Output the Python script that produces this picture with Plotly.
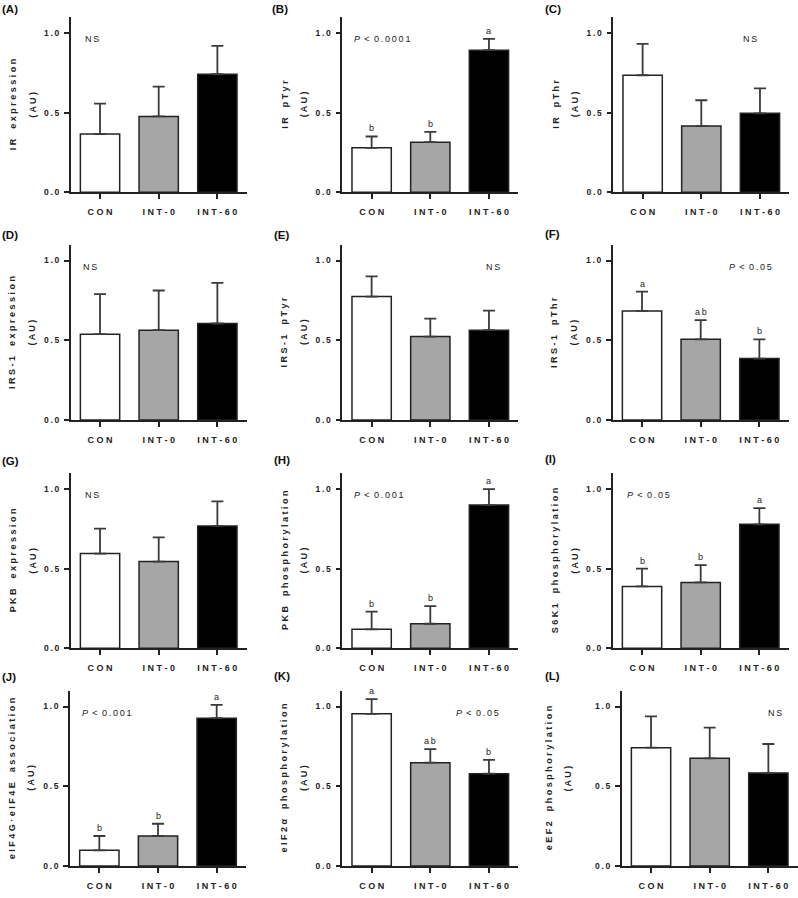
import plotly.graph_objects as go

# ---------------- data ----------------
categories = ["CON", "INT-0", "INT-60"]
ytick_vals = [0.0, 0.5, 1.0]
ytick_labels = ["0.0", "0.5", "1.0"]

panel_tags = ["(A)", "(B)", "(C)", "(D)", "(E)", "(F)", "(G)", "(H)", "(I)", "(J)", "(K)", "(L)"]
y_titles = ["IR expression", "IR pTyr", "IR pThr",
            "IRS-1 expression", "IRS-1 pTyr", "IRS-1 pThr",
            "PKB expression", "PKB phosphorylation", "S6K1 phosphorylation",
            "eIF4G·eIF4E association", "eIF2α phosphorylation", "eEF2 phosphorylation"]
unit_label = "(AU)"

ir_expr_mean = [0.365, 0.476, 0.740]
ir_expr_err = [0.191, 0.186, 0.178]
ir_ptyr_mean = [0.279, 0.314, 0.891]
ir_ptyr_err = [0.071, 0.065, 0.071]
ir_pthr_mean = [0.734, 0.415, 0.495]
ir_pthr_err = [0.197, 0.162, 0.157]
irs1_expr_mean = [0.538, 0.563, 0.605]
irs1_expr_err = [0.251, 0.249, 0.255]
irs1_ptyr_mean = [0.774, 0.523, 0.563]
irs1_ptyr_err = [0.126, 0.113, 0.123]
irs1_pthr_mean = [0.684, 0.506, 0.385]
irs1_pthr_err = [0.121, 0.120, 0.121]
pkb_expr_mean = [0.594, 0.544, 0.767]
pkb_expr_err = [0.156, 0.152, 0.154]
pkb_phos_mean = [0.119, 0.154, 0.898]
pkb_phos_err = [0.111, 0.111, 0.100]
s6k1_phos_mean = [0.388, 0.413, 0.777]
s6k1_phos_err = [0.111, 0.109, 0.102]
eif4g_assoc_mean = [0.098, 0.188, 0.927]
eif4g_assoc_err = [0.090, 0.077, 0.083]
eif2a_phos_mean = [0.954, 0.648, 0.579]
eif2a_phos_err = [0.092, 0.085, 0.086]
eef2_phos_mean = [0.742, 0.675, 0.583]
eef2_phos_err = [0.196, 0.192, 0.182]

means = [ir_expr_mean, ir_ptyr_mean, ir_pthr_mean, irs1_expr_mean, irs1_ptyr_mean, irs1_pthr_mean,
         pkb_expr_mean, pkb_phos_mean, s6k1_phos_mean, eif4g_assoc_mean, eif2a_phos_mean, eef2_phos_mean]
errs = [ir_expr_err, ir_ptyr_err, ir_pthr_err, irs1_expr_err, irs1_ptyr_err, irs1_pthr_err,
        pkb_expr_err, pkb_phos_err, s6k1_phos_err, eif4g_assoc_err, eif2a_phos_err, eef2_phos_err]

stat_texts = ["NS", "P < 0.0001", "NS", "NS", "NS", "P < 0.05",
              "NS", "P < 0.001", "P < 0.05", "P < 0.001", "P < 0.05", "NS"]
group_letters = [None, ["b", "b", "a"], None,
                 None, None, ["a", "ab", "b"],
                 None, ["b", "b", "a"], ["b", "b", "a"],
                 ["b", "b", "a"], ["a", "ab", "b"], None]

# ---------------- layout / style ----------------
W, H = 798, 898
axis_x0 = [70.7, 342.3, 613.3, 70.7, 342.3, 612.7, 70.7, 342.3, 612.7, 70.0, 342.3, 621.7]
row_zero = [192.3, 420.0, 648.3, 866.0]
axis_w = 176.0
px_per_unit = 159.5
y_max = 1.1
title_off = [(58, 38.5)] * 11 + [(72.7, 53.4)]
stat_x = [-0.14, 0.185, 1.83, -0.17, 2.07, 1.85, -0.14, 0.12, 0.11, 0.13, 1.80, 2.12]
stat_y = 0.962
tag_x = [0, 270, 542.7, 0, 271.7, 542.7, 0, 271.7, 542.7, 0, 271.7, 542.7]
tag_y = [8.5, 8.5, 8.5, 235, 235, 234, 460.5, 460, 459, 676.5, 675.5, 676]

bar_fills = ["#ffffff", "#a6a6a6", "#000000"]
ink = "#222222"
FONT = "Liberation Sans, Arial, sans-serif"
TS = "\u2009"  # thin space for letter spacing


def spaced(s, sep=" "):
    out = []
    for ch in s:
        if ch == " ":
            out.append("\u00a0\u00a0")
        else:
            out.append(ch)
    return sep.join(out)


def stat_html(s):
    if s.startswith("P"):
        num = s.split("<")[1].strip()
        return "<i>P</i>\u00a0\u2009&lt;\u2009 " + TS.join(list(num))
    return TS.join(list(s))


fig = go.Figure()
layout = dict(template="none", width=W, height=H, margin=dict(l=0, r=0, t=0, b=0, pad=0),
              paper_bgcolor="white", plot_bgcolor="white", showlegend=False,
              font=dict(family=FONT, color=ink))
annotations = []

for i in range(12):
    r = i // 3
    n = "" if i == 0 else str(i + 1)
    x0 = axis_x0[i]
    yb = row_zero[r]
    yt = yb - y_max * px_per_unit
    xdom = [x0 / W, (x0 + axis_w) / W]
    ydom = [1 - yb / H, 1 - yt / H]

    fig.add_trace(go.Bar(
        x=[0, 1, 2], y=means[i], width=0.67,
        marker=dict(color=bar_fills, line=dict(color=ink, width=1.5)),
        error_y=dict(type="data", array=errs[i], arrayminus=[0, 0, 0], symmetric=False,
                     color="#3a3a3a", thickness=1.8, width=6),
        xaxis="x" + n, yaxis="y" + n, hoverinfo="skip"))

    layout["xaxis" + n] = dict(
        domain=xdom, anchor="y" + n, range=[-0.5, 2.5],
        tickmode="array", tickvals=[0, 1, 2], ticktext=[spaced(c) for c in categories],
        ticks="outside", ticklen=5, tickwidth=1.5, tickcolor=ink,
        showline=True, linecolor=ink, linewidth=1.6, showgrid=False, zeroline=False,
        tickfont=dict(family=FONT, size=9, color=ink, weight="bold"),
        ticklabelstandoff=5, fixedrange=True, automargin=False)
    layout["yaxis" + n] = dict(
        domain=ydom, anchor="x" + n, range=[0, y_max],
        tickmode="array", tickvals=ytick_vals, ticktext=[TS.join(list(t)) for t in ytick_labels],
        ticks="outside", ticklen=5, tickwidth=1.5, tickcolor=ink,
        showline=True, linecolor=ink, linewidth=1.6, showgrid=False, zeroline=False,
        tickfont=dict(family=FONT, size=8.5, color=ink, weight="bold"),
        ticklabelstandoff=3, fixedrange=True, automargin=False)

    # y-axis title (two lines)
    ymid = 1 - (yb - y_max * px_per_unit / 2) / H
    o1, o2 = title_off[i]
    annotations.append(dict(text="<b>" + spaced(y_titles[i]) + "</b>", textangle=-90,
                            x=(x0 - o1) / W, y=ymid, xref="paper", yref="paper",
                            xanchor="center", yanchor="middle", showarrow=False,
                            font=dict(family=FONT, size=9, color=ink)))
    annotations.append(dict(text="<b>" + spaced(unit_label) + "</b>", textangle=-90,
                            x=(x0 - o2) / W, y=ymid, xref="paper", yref="paper",
                            xanchor="center", yanchor="middle", showarrow=False,
                            font=dict(family=FONT, size=9, color=ink)))
    # panel tag
    annotations.append(dict(text="<b>" + panel_tags[i] + "</b>", x=tag_x[i] / W, y=1 - tag_y[i] / H,
                            xref="paper", yref="paper", xanchor="left", yanchor="middle",
                            showarrow=False, font=dict(family=FONT, size=11.5, color="#111111")))
    # statistics text
    annotations.append(dict(text=stat_html(stat_texts[i]), x=stat_x[i], y=stat_y,
                            xref="x" + n, yref="y" + n, xanchor="center", yanchor="middle",
                            showarrow=False, font=dict(family=FONT, size=9, color=ink)))
    # group letters
    if group_letters[i]:
        for k, lt in enumerate(group_letters[i]):
            annotations.append(dict(text=TS.join(list(lt)), x=k, y=means[i][k] + errs[i][k],
                                    xref="x" + n, yref="y" + n, xanchor="center", yanchor="bottom",
                                    yshift=1, showarrow=False,
                                    font=dict(family=FONT, size=9, color=ink)))

layout["annotations"] = annotations
fig.update_layout(**layout)
fig.write_html("out.html", config={"displayModeBar": False},
               post_script="document.body.style.margin='0px';document.body.style.padding='0px';")
